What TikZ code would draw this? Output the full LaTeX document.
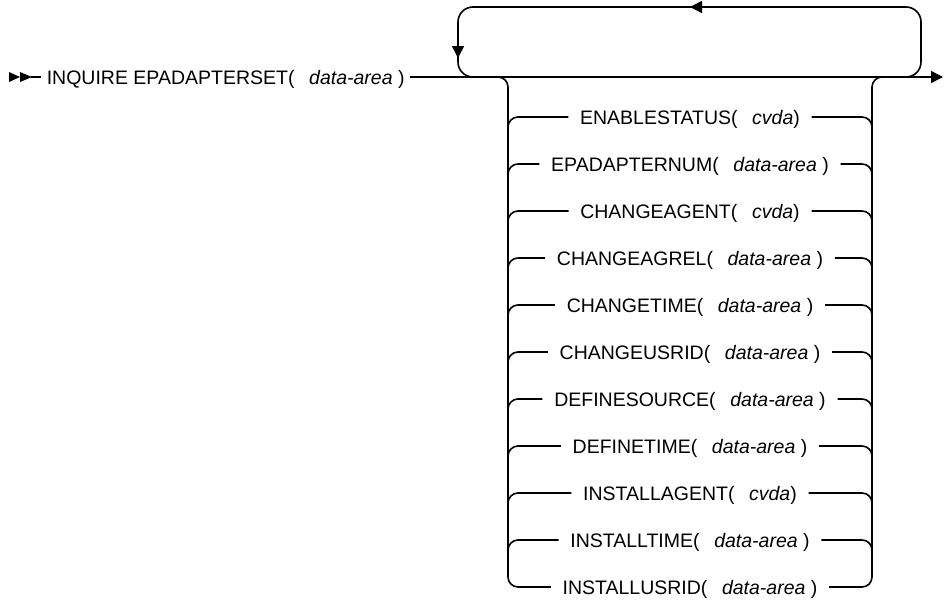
\documentclass[tikz,border=0pt]{standalone}
\usepackage{fontspec}
\setmainfont{Liberation Sans}
\usetikzlibrary{arrows.meta}
\newcommand{\pgap}{\hspace{0.75em}}
\begin{document}
\begin{tikzpicture}[x=1pt,y=-1pt,line width=1.6pt,
  lbl/.style={font=\fontsize{19.5}{22}\selectfont, text height=14pt, text depth=0pt, inner ysep=2pt},
  rowlbl/.style={lbl, inner xsep=11pt},
  tipR/.style={-{Triangle[length=12pt,width=12pt]}},
  rc/.style={rounded corners=10pt}]
\useasboundingbox (0,0) rectangle (944,600);
% start marker
\fill (9,72) -- (20,77) -- (9,82) -- cycle;
\fill (20,72) -- (32,77) -- (20,82) -- cycle;
\coordinate (s) at (31,77);
\node[lbl, anchor=west, inner xsep=5pt] (q) at (41,77) {INQUIRE EPADAPTERSET(\pgap\textit{data-area} )};
\coordinate (e) at (943,77);
\draw (s) -- (q.west);
\draw[tipR] (q.east) -- (e);
% repeat loop
\draw[rounded corners=15pt] (880,77) -- (921,77) -- (921,7) -- (458,7) -- (458,77) -- (500,77);
\draw[-{Triangle[length=12pt,width=12pt]}] (458,40) -- (458,58);
\draw[-{Triangle[length=12pt,width=12pt]}] (720,7) -- (690,7);
% rows
\foreach \i/\t in {1/{ENABLESTATUS(\pgap\textit{cvda})},
                   2/{EPADAPTERNUM(\pgap\textit{data-area} )},
                   3/{CHANGEAGENT(\pgap\textit{cvda})},
                   4/{CHANGEAGREL(\pgap\textit{data-area} )},
                   5/{CHANGETIME(\pgap\textit{data-area} )},
                   6/{CHANGEUSRID(\pgap\textit{data-area} )},
                   7/{DEFINESOURCE(\pgap\textit{data-area} )},
                   8/{DEFINETIME(\pgap\textit{data-area} )},
                   9/{INSTALLAGENT(\pgap\textit{cvda})},
                   10/{INSTALLTIME(\pgap\textit{data-area} )},
                   11/{INSTALLUSRID(\pgap\textit{data-area} )}}
{
  \pgfmathsetmacro{\yy}{117+(\i-1)*47}
  \node[rowlbl] (r\i) at (690,\yy) {\t};
  \coordinate (L\i) at (508,\yy);
  \coordinate (R\i) at (872,\yy);
}
\foreach \i in {1,...,10}{
  \draw[rc] ([yshift=-15pt]L\i) -- (L\i) -- (r\i.west);
  \draw[rc] (r\i.east) -- (R\i) -- ([yshift=-15pt]R\i);
}
\coordinate (bl) at (508,77);
\coordinate (br) at (872,77);
\draw[rc] (490,77) -- (bl) -- (L11) -- (r11.west);
\draw[rc] (r11.east) -- (R11) -- (br) -- (890,77);
\end{tikzpicture}
\end{document}
